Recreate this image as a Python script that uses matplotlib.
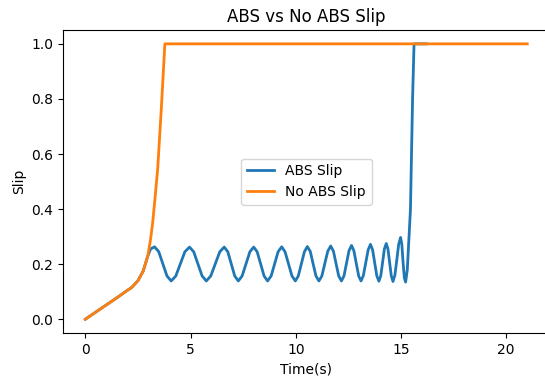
import matplotlib
matplotlib.use("Agg")
import matplotlib.pyplot as plt

# No ABS slip
t_no_abs = [0.0, 0.5, 1.0, 1.5, 2.0, 2.2, 2.5, 2.75, 2.97, 3.1, 3.2, 3.3,
            3.44, 3.6, 3.78, 21.0]
slip_no_abs = [0.0, 0.026, 0.052, 0.078, 0.105, 0.115, 0.14, 0.175, 0.23,
               0.29, 0.35, 0.43, 0.547, 0.75, 1.0, 1.0]

# ABS slip
t_abs = [0.0, 0.5, 1.0, 1.5, 2.0, 2.2, 2.5, 2.75, 2.97, 3.1, 3.29,
         3.49, 3.685, 3.88, 4.08,
         4.30, 4.515, 4.73, 4.95,
         5.15, 5.35, 5.55, 5.75,
         5.96, 6.175, 6.39, 6.6,
         6.77, 6.935, 7.10, 7.27,
         7.45, 7.635, 7.82, 8.0,
         8.165, 8.33, 8.495, 8.66,
         8.83, 8.995, 9.16, 9.33,
         9.49, 9.655, 9.82, 9.98,
         10.12, 10.265, 10.41, 10.55,
         10.69, 10.825, 10.96, 11.1,
         11.24, 11.38, 11.52, 11.66,
         11.79, 11.915, 12.04, 12.17,
         12.29, 12.41, 12.53, 12.65,
         12.76, 12.875, 12.99, 13.1,
         13.21, 13.325, 13.44, 13.55,
         13.65, 13.75, 13.85, 13.95,
         14.04, 14.125, 14.21, 14.3,
         14.38, 14.46, 14.54, 14.62,
         14.71, 14.8, 14.89, 14.98,
         15.04, 15.1, 15.16, 15.22,
         15.3, 15.45, 15.55, 15.62, 16.2]
slip_abs = [0.0, 0.026, 0.052, 0.078, 0.105, 0.115, 0.14, 0.175, 0.23, 0.255, 0.263,
            0.245, 0.201, 0.157, 0.139,
            0.157, 0.201, 0.245, 0.262,
            0.245, 0.201, 0.157, 0.139,
            0.157, 0.201, 0.245, 0.262,
            0.245, 0.201, 0.157, 0.139,
            0.157, 0.201, 0.245, 0.262,
            0.245, 0.201, 0.157, 0.139,
            0.157, 0.201, 0.245, 0.263,
            0.245, 0.201, 0.157, 0.139,
            0.157, 0.201, 0.245, 0.264,
            0.246, 0.201, 0.157, 0.139,
            0.157, 0.202, 0.247, 0.266,
            0.247, 0.202, 0.157, 0.139,
            0.157, 0.203, 0.249, 0.268,
            0.249, 0.203, 0.157, 0.139,
            0.158, 0.205, 0.252, 0.272,
            0.252, 0.205, 0.158, 0.138,
            0.158, 0.206, 0.255, 0.275,
            0.255, 0.206, 0.157, 0.137,
            0.16, 0.215, 0.272, 0.297,
            0.272, 0.205, 0.15, 0.135,
            0.18, 0.4, 0.8, 1.0, 1.0]

fig, ax = plt.subplots(figsize=(5.45, 3.81), dpi=100)
# the right spine sits just past the image edge in the reference
fig.subplots_adjust(left=0.116, right=1.008, top=0.921, bottom=0.126)
ax.spines["right"].set_visible(False)

ax.plot(t_abs, slip_abs, label="ABS Slip", color="C0", linewidth=2.0)
ax.plot(t_no_abs, slip_no_abs, label="No ABS Slip", color="C1", linewidth=2.0)

ax.set_title("ABS vs No ABS Slip")
ax.set_xlabel("Time(s)")
ax.set_ylabel("Slip")
ax.legend(loc="center")

fig.savefig("out.png", dpi=100)
